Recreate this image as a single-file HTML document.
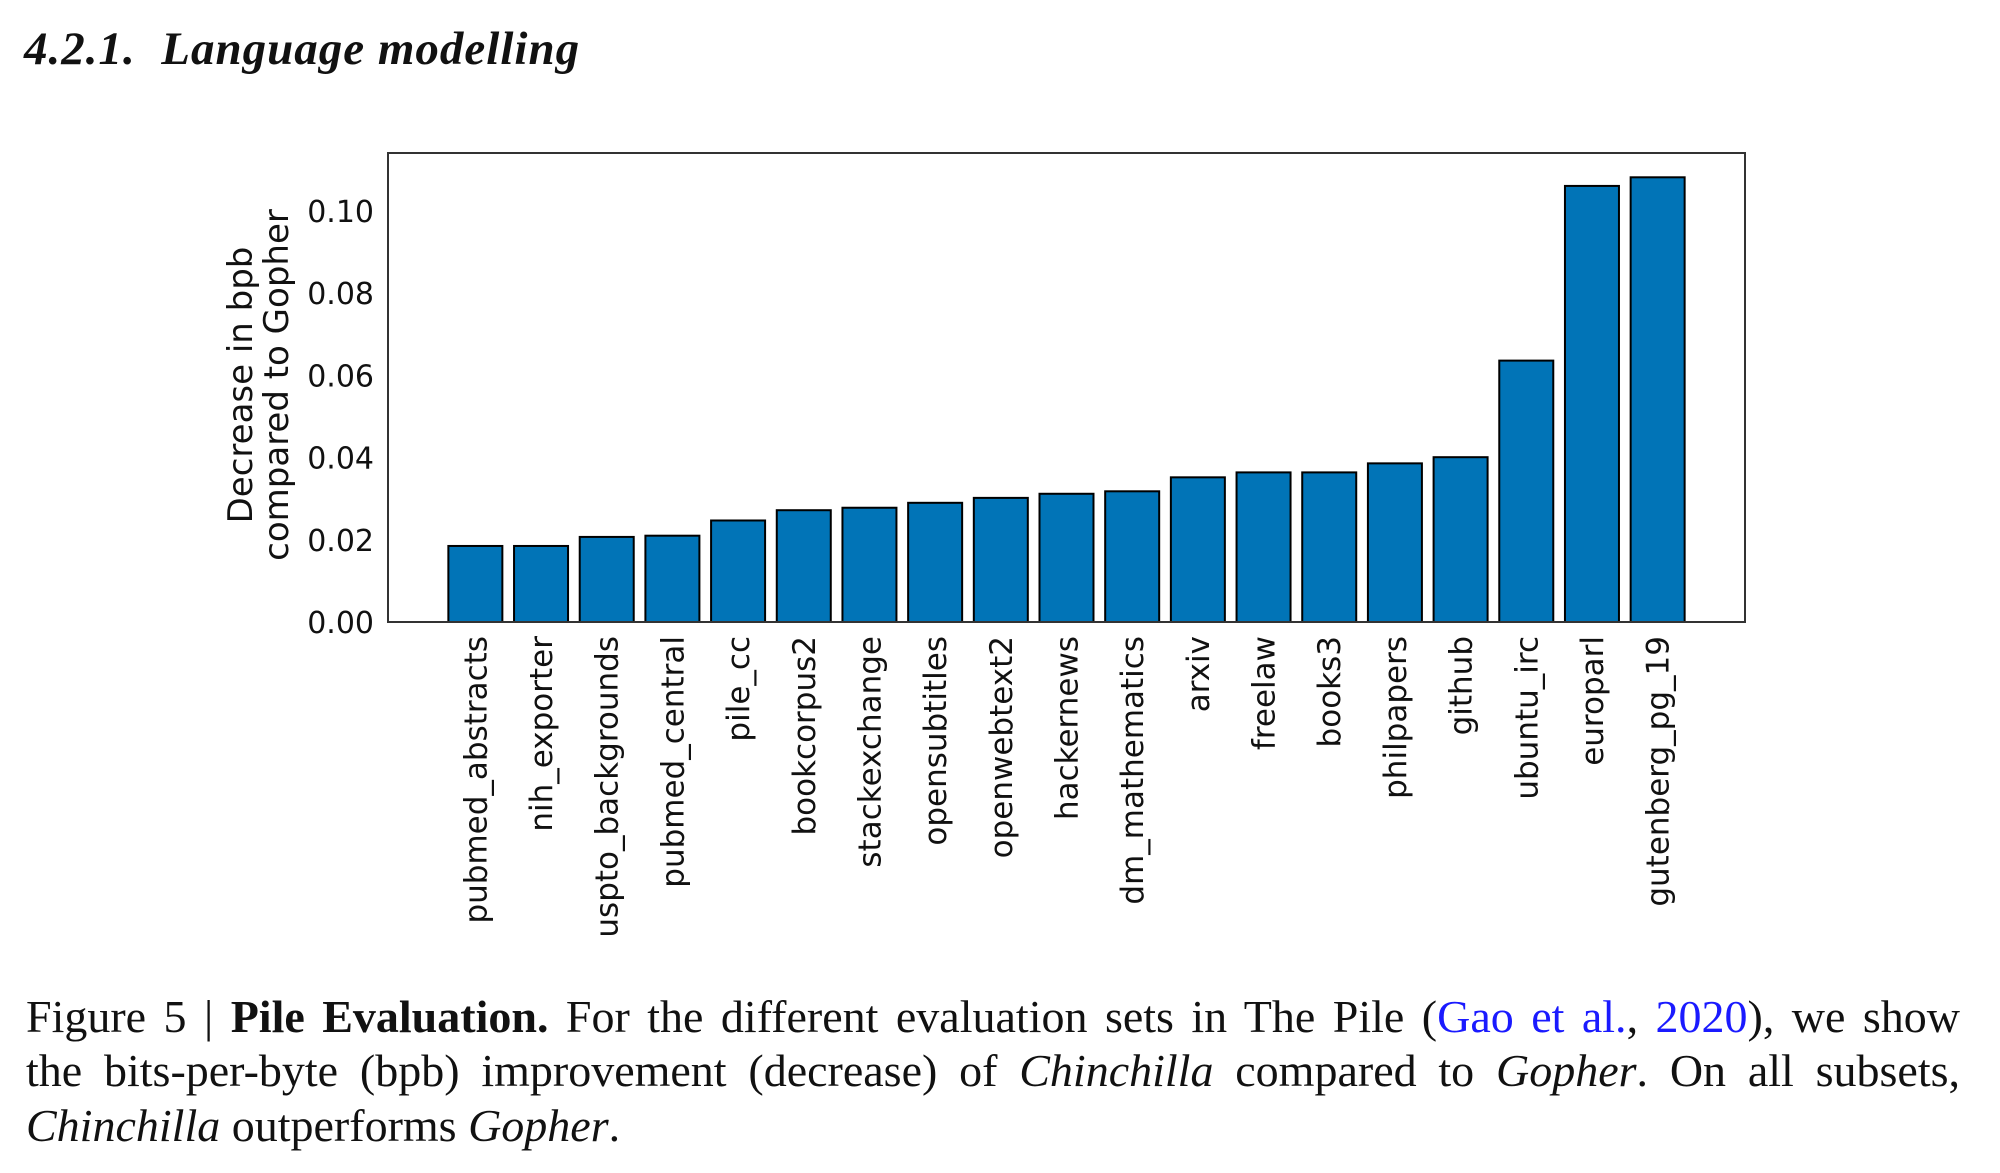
<!DOCTYPE html>
<html><head><meta charset="utf-8"><style>
body{margin:0;background:#fff;width:2000px;height:1173px;overflow:hidden;position:relative}
#h{position:absolute;left:24px;top:22px;font:italic bold 47px "Liberation Serif",serif;letter-spacing:1px;color:#111;margin:0}
.cap{position:absolute;left:26px;width:1934px;font:46px "Liberation Serif",serif;color:#111;text-align:justify;text-align-last:justify;white-space:nowrap}
.cap.last{text-align-last:left}
a{color:#1a1aff;text-decoration:none}
</style></head><body>
<h3 id="h">4.2.1.&nbsp; Language modelling</h3>
<svg id="chart" width="2000" height="960" style="position:absolute;left:0;top:0" font-family="DejaVu Sans, sans-serif"></svg>
<div class="cap" style="top:990px">Figure 5 | <b>Pile Evaluation.</b> For the different evaluation sets in The Pile (<a>Gao et al.</a>, <a>2020</a>), we show</div>
<div class="cap" style="top:1044px">the bits-per-byte (bpb) improvement (decrease) of <i>Chinchilla</i> compared to <i>Gopher</i>. On all subsets,</div>
<div class="cap last" style="top:1099px"><i>Chinchilla</i> outperforms <i>Gopher</i>.</div>
<script>
const categories=["pubmed_abstracts","nih_exporter","uspto_backgrounds","pubmed_central","pile_cc","bookcorpus2","stackexchange","opensubtitles","openwebtext2","hackernews","dm_mathematics","arxiv","freelaw","books3","philpapers","github","ubuntu_irc","europarl","gutenberg_pg_19"];
const values=[0.0185,0.0185,0.0207,0.021,0.0247,0.0272,0.0278,0.029,0.0302,0.0312,0.0318,0.0352,0.0364,0.0364,0.0386,0.0401,0.0636,0.1061,0.1082];
const yTicks=[0,0.02,0.04,0.06,0.08,0.10];
const yTickLabels=["0.00","0.02","0.04","0.06","0.08","0.10"];
const NS="http://www.w3.org/2000/svg";
const svg=document.getElementById('chart');
const L=388,R=1745,T=153,B=622;
const x=i=>L+(i+1.33)*(R-L)/(categories.length-1+2.66);
const y=v=>B-v*4110;
const bw=54;
function mk(t,a){const e=document.createElementNS(NS,t);for(const k in a)e.setAttribute(k,a[k]);svg.appendChild(e);return e;}
categories.forEach((c,i)=>{
  const r=mk('rect',{x:x(i)-bw/2,y:y(values[i]),width:bw,height:B-y(values[i]),fill:'#0174b7',stroke:'#000','stroke-width':2});
  
  
  const t=mk('text',{x:0,y:0,'font-size':31,fill:'#111','text-anchor':'end',transform:`translate(${x(i)+11},636) rotate(-90)`});
  t.textContent=c;
  
  
});
yTicks.forEach((v,i)=>{
  const t=mk('text',{x:374,y:y(v)+11,'font-size':30,fill:'#111','text-anchor':'end'});
  t.textContent=yTickLabels[i];
  
  
});
const f=mk('rect',{x:L,y:T,width:R-L,height:B-T,fill:'none',stroke:'#333','stroke-width':2});


const yt=mk('text',{'font-size':34,fill:'#111','text-anchor':'middle',transform:'translate(252,385) rotate(-90)'});


const s1=document.createElementNS(NS,'tspan');s1.setAttribute('x',0);s1.setAttribute('y',0);s1.textContent='Decrease in bpb';yt.appendChild(s1);
const s2=document.createElementNS(NS,'tspan');s2.setAttribute('x',0);s2.setAttribute('y',36);s2.textContent='compared to Gopher';yt.appendChild(s2);
</script>
</body></html>
